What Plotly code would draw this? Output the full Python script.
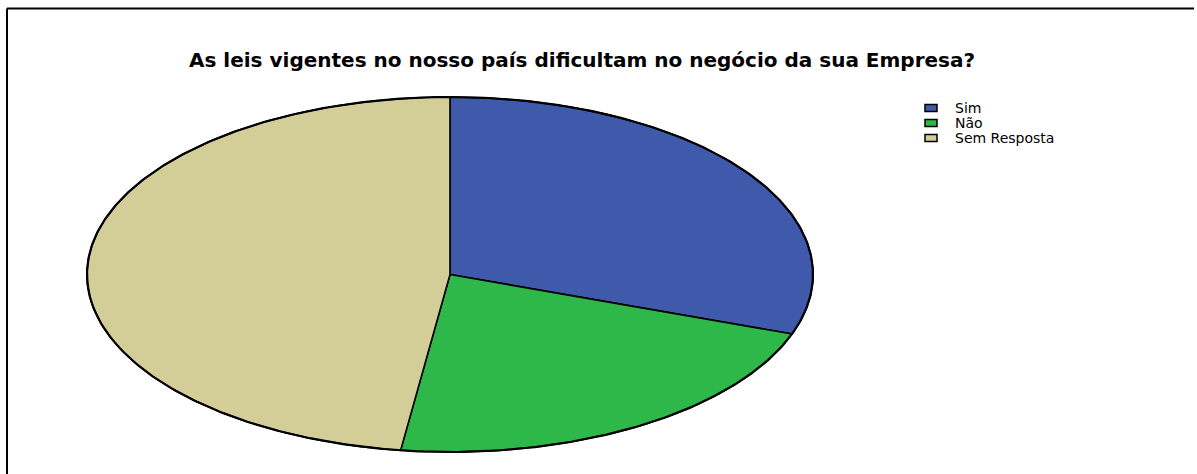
import numpy as np
import plotly.graph_objects as go

# Survey answers
categories = ["Sim", "Não", "Sem Resposta"]
counts = [7, 5, 11]
colors = ["#3f5aab", "#2eb84a", "#d3ce98"]

title = "As leis vigentes no nosso país dificultam no negócio da sua Empresa?"

W, H = 1197, 474
# Elliptical pie geometry, in pixel units of the full-figure axes
CX, CY = 450, 274.5
RX, RY = 363, 177.5

fig = go.Figure()

total = sum(counts)
start = 0.0
for name, val, col in zip(categories, counts, colors):
    frac = val / total
    t = np.linspace(start, start + frac, max(int(frac * 400), 20)) * 2 * np.pi
    xs = np.concatenate([[CX], CX + RX * np.sin(t), [CX]])
    ys = np.concatenate([[CY], CY - RY * np.cos(t), [CY]])
    fig.add_trace(go.Scatter(
        x=xs, y=ys, mode="lines", fill="toself", fillcolor=col,
        line=dict(color="black", width=1.6), name=name, showlegend=False,
        hoverinfo="skip",
    ))
    start += frac

# Outer rim drawn a bit heavier
t = np.linspace(0, 2 * np.pi, 600)
fig.add_trace(go.Scatter(
    x=CX + RX * np.sin(t), y=CY - RY * np.cos(t), mode="lines",
    line=dict(color="black", width=2.2), showlegend=False, hoverinfo="skip",
))

# Key: swatch boxes and labels
shapes = [
    dict(type="line", xref="x", yref="y", x0=7, y0=8.5, x1=1194, y1=8.5,
         line=dict(color="black", width=2)),
    dict(type="line", xref="x", yref="y", x0=7, y0=8.5, x1=7, y1=H,
         line=dict(color="black", width=2)),
]
annotations = [dict(
    text="<b>" + title + "</b>", x=582, y=60, xref="x", yref="y",
    showarrow=False, xanchor="center", yanchor="middle",
    font=dict(family="DejaVu Sans", size=20, color="black"),
)]
for i, (name, col) in enumerate(zip(categories, colors)):
    yc = 108 + 15 * i
    shapes.append(dict(
        type="rect", xref="x", yref="y", x0=925, x1=937, y0=yc - 3.5, y1=yc + 3.5,
        fillcolor=col, line=dict(color="black", width=1.5),
    ))
    annotations.append(dict(
        text=name, x=953, y=yc, xref="x", yref="y", showarrow=False,
        xanchor="left", yanchor="middle",
        font=dict(family="DejaVu Sans", size=14, color="black"),
    ))

fig.update_layout(
    width=W, height=H,
    margin=dict(l=0, r=0, t=0, b=0),
    paper_bgcolor="white", plot_bgcolor="white",
    xaxis=dict(range=[0, W], visible=False, fixedrange=True),
    yaxis=dict(range=[H, 0], visible=False, fixedrange=True),
    showlegend=False,
    annotations=annotations,
    shapes=shapes,
)

fig.write_html("out.html")
